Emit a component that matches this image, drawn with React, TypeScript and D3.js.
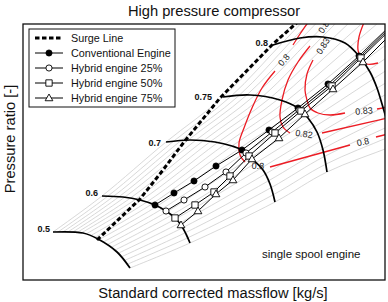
import React from "react";
import * as d3 from "d3";

type P = [number, number];

// ---------- data (massflow [kg/s], pressure ratio [-]) ----------
const SPEED_LABELS = ["0.5", "0.6", "0.7", "0.75", "0.8"];
const speed050: P[] = [[3.0, 4.8], [6.0, 4.7], [7.5, 4.1], [9.4, 2.8], [10.7, 1.2]];
const speed060: P[] = [[7.9, 8.4], [10.0, 8.3], [11.7, 8.0], [13.2, 7.5], [14.3, 6.9], [15.2, 6.2], [15.8, 5.5], [16.3, 4.6], [16.7, 3.7]];
const speed070: P[] = [[14.3, 13.8], [16.7, 14.0], [19.2, 13.8], [20.9, 13.4], [21.9, 13.0], [22.9, 12.1], [24.0, 11.0], [24.7, 9.6], [25.2, 7.8]];
const speed075: P[] = [[20.0, 18.3], [22.7, 18.5], [25.7, 18.0], [27.5, 17.2], [28.5, 16.2], [29.4, 14.8], [30.0, 13.0], [30.4, 10.8]];
const speed080: P[] = [[25.0, 23.5], [27.7, 24.2], [30.0, 24.3], [32.2, 23.7], [33.6, 22.4], [34.7, 20.8], [35.4, 19.2], [35.9, 17.6], [36.3, 16.2], [37.0, 13.4]];
const speedLabelAnchors: P[] = [[2.7, 5.1], [7.5, 8.7], [13.8, 13.7], [18.9, 18.3], [24.5, 23.7]];

const surgeLine: P[] = [[7.4, 4.0], [11.7, 8.1], [14.0, 11.0], [16.1, 13.8], [19.7, 18.2], [25.0, 23.6], [27.7, 26.0]];

const conventional: P[] = [[13.2, 7.5], [15.1, 8.7], [17.1, 9.9], [19.3, 11.4], [21.9, 13.0], [24.6, 15.0], [27.5, 17.2], [30.5, 19.6], [33.6, 22.4], [36.9, 25.6]];
const hybrid25: P[] = [[14.3, 6.9], [16.1, 8.0], [18.2, 9.3], [20.3, 10.8], [22.3, 12.7], [24.9, 14.8], [27.6, 17.0], [30.7, 19.5], [33.7, 22.3], [36.9, 25.4]];
const hybrid50: P[] = [[15.2, 6.2], [17.2, 7.5], [19.1, 8.8], [20.7, 10.4], [22.6, 12.4], [25.2, 14.7], [27.8, 16.9], [30.9, 19.4], [33.8, 22.2], [37.0, 25.3]];
const hybrid75: P[] = [[15.8, 5.5], [17.5, 6.9], [19.3, 8.6], [21.0, 10.0], [22.9, 12.1], [25.6, 14.2], [28.2, 16.6], [31.0, 19.1], [34.0, 21.8], [37.2, 25.0]];
const MARKED_POINTS = 9; // operating points per line (the last vertex only continues the line)

// efficiency iso-lines, split where their labels sit
const eff080: P[][] = [
  [[28.6, 25.9], [27.7, 24.6], [27.0, 23.5]],
  [[25.2, 20.9], [23.9, 19.2], [22.9, 17.2], [22.1, 15.2], [21.6, 13.7], [21.7, 12.5], [22.2, 11.8]],
  [[24.7, 11.3], [32.7, 13.5]],
  [[35.3, 14.3], [36.5, 14.6]],
];
const eff082: P[][] = [
  [[31.0, 25.6], [31.3, 26.2]],
  [[28.7, 23.4], [27.5, 21.8], [26.5, 20.0], [25.9, 18.0], [25.7, 16.3], [26.0, 15.3], [26.7, 14.7]],
  [[29.9, 14.7], [36.5, 16.2]],
];
const eff083: P[][] = [
  [[29.0, 22.0], [28.4, 20.6], [28.2, 19.0], [28.4, 18.0], [28.7, 17.2], [29.5, 16.7], [30.7, 16.5], [32.2, 16.7]],
  [[35.4, 17.1], [36.5, 17.3]],
];
const effInner: P[][] = [
  [[34.2, 26.0], [33.6, 24.3], [33.5, 23.0], [33.8, 22.1], [34.4, 21.6], [35.5, 21.7]],
];
const effLabelText = ["0.8", "0.8", "0.8", "0.82", "0.82", "0.83", "0.83"];
const effLabelAt: P[] = [[26.1, 22.0], [23.5, 11.4], [34.0, 13.8], [30.2, 25.5], [28.1, 14.6], [30.0, 23.4], [34.1, 16.9]];
const effLabelAngle = [-48, 3, -12, -58, 8, -58, -5];

const legendLabels = ["Surge Line", "Conventional Engine", "Hybrid engine 25%", "Hybrid engine 50%", "Hybrid engine 75%"];
const BETA_COUNT = 20;

// ---------- layout ----------
const W = 388, H = 302;
const FX0 = 23, FX1 = 385, FY0 = 24, FY1 = 280;
const FONT = "'Liberation Sans', Arial, Helvetica, sans-serif";
const RED = "#ec1c24";

const x = d3.scaleLinear().domain([0, 36.2]).range([FX0, FX1]);
const y = d3.scaleLinear().domain([0, 25.6]).range([FY1, FY0]);

const toPx = (p: P): P => [x(p[0]), y(p[1])];

function pointAlong(pts: P[], f: number): P {
  const px = pts.map(toPx);
  const lens: number[] = [];
  let total = 0;
  for (let i = 1; i < px.length; i++) {
    const l = Math.hypot(px[i][0] - px[i - 1][0], px[i][1] - px[i - 1][1]);
    lens.push(l);
    total += l;
  }
  let t = f * total;
  for (let i = 0; i < lens.length; i++) {
    if (t <= lens[i] || i === lens.length - 1) {
      const r = lens[i] === 0 ? 0 : Math.min(1, t / lens[i]);
      return [px[i][0] + (px[i + 1][0] - px[i][0]) * r, px[i][1] + (px[i + 1][1] - px[i][1]) * r];
    }
    t -= lens[i];
  }
  return px[px.length - 1];
}

const dataLine = d3.line<P>().x((d) => x(d[0])).y((d) => y(d[1])).curve(d3.curveCatmullRom.alpha(0.5));
const dataPoly = d3.line<P>().x((d) => x(d[0])).y((d) => y(d[1]));
const pxLine = d3.line<P>().curve(d3.curveCatmullRom.alpha(0.5));

const symCircle = d3.symbol().type(d3.symbolCircle).size(30)()!;
const symSquare = d3.symbol().type(d3.symbolSquare).size(40)()!;
const symTri = d3.symbol().type(d3.symbolTriangle).size(26)()!;

function Marker({ kind, cx, cy }: { kind: string; cx: number; cy: number }) {
  if (kind === "filled") return <path d={symCircle} transform={`translate(${cx},${cy})`} fill="#000" stroke="#000" strokeWidth={0.8} />;
  if (kind === "circle") return <path d={symCircle} transform={`translate(${cx},${cy})`} fill="#fff" stroke="#000" strokeWidth={0.9} />;
  if (kind === "square") return <path d={symSquare} transform={`translate(${cx},${cy})`} fill="#fff" stroke="#000" strokeWidth={0.9} />;
  return <path d={symTri} transform={`translate(${cx},${cy + 0.5})`} fill="#fff" stroke="#000" strokeWidth={0.9} />;
}

export default function App() {
  const speeds = [speed050, speed060, speed070, speed075, speed080];
  const betaLines: P[][] = d3.range(BETA_COUNT).map((i) => {
    const f = i / (BETA_COUNT - 1);
    const pts = speeds.map((s) => pointAlong(s, f));
    const a = pts[pts.length - 2], b = pts[pts.length - 1];
    pts.push([b[0] + (b[0] - a[0]) * 1.2, b[1] + (b[1] - a[1]) * 1.2]);
    return pts;
  });

  const opLines = [
    { data: conventional, kind: "filled" },
    { data: hybrid25, kind: "circle" },
    { data: hybrid50, kind: "square" },
    { data: hybrid75, kind: "triangle" },
  ];

  const legendY = [38, 53, 68, 83, 98];

  return (
    <svg width={W} height={H} style={{ position: "fixed", left: 0, top: 0, background: "#fff" }} fontFamily={FONT}>
      <defs>
        <clipPath id="plotClip">
          <rect x={FX0} y={FY0} width={FX1 - FX0} height={FY1 - FY0} />
        </clipPath>
      </defs>
      <rect x={0} y={0} width={W} height={H} fill="#fff" />
      <text x={214} y={16} textAnchor="middle" fontSize={14.7} fill="#111">High pressure compressor</text>
      <text x={213} y={298} textAnchor="middle" fontSize={14.7} fill="#111">Standard corrected massflow [kg/s]</text>
      <text transform="translate(14.5,139) rotate(-90)" textAnchor="middle" fontSize={14.7} fill="#111">Pressure ratio [-]</text>

      <g clipPath="url(#plotClip)">
        {betaLines.map((b, i) => (
          <path key={"b" + i} d={pxLine(b) || ""} fill="none" stroke="#cbcbcb" strokeWidth={0.75} />
        ))}
        {[eff080, eff082, eff083, effInner].map((c, ci) =>
          c.map((seg, si) => (
            <path key={`e${ci}-${si}`} d={dataLine(seg) || ""} fill="none" stroke={RED} strokeWidth={1.3} />
          ))
        )}
        {speeds.map((s, i) => (
          <path key={"s" + i} d={dataLine(s) || ""} fill="none" stroke="#000" strokeWidth={1.7} />
        ))}
        <path d={dataPoly(surgeLine) || ""} fill="none" stroke="#000" strokeWidth={3} strokeDasharray="4.5,2.5" />
        {opLines.map((o, i) => (
          <path key={"o" + i} d={dataPoly(o.data) || ""} fill="none" stroke="#000" strokeWidth={1} />
        ))}
        {opLines.map((o, i) =>
          o.data.slice(0, MARKED_POINTS).map((p, j) => <Marker key={`m${i}-${j}`} kind={o.kind} cx={x(p[0])} cy={y(p[1])} />)
        )}
        {effLabelText.map((t, i) => (
          <text
            key={"el" + i}
            transform={`translate(${x(effLabelAt[i][0])},${y(effLabelAt[i][1])}) rotate(${effLabelAngle[i]})`}
            textAnchor="middle"
            dominantBaseline="central"
            fontSize={9}
            fill="#222"
          >
            {t}
          </text>
        ))}
        <text x={262} y={258} fontSize={11.5} fill="#111">single spool engine</text>
      </g>

      {SPEED_LABELS.map((t, i) => (
        <text
          key={"sl" + i}
          x={x(speedLabelAnchors[i][0])}
          y={y(speedLabelAnchors[i][1])}
          textAnchor="end"
          dominantBaseline="central"
          fontSize={9}
          fontWeight="bold"
          fill="#111"
        >
          {t}
        </text>
      ))}

      <rect x={FX0} y={FY0} width={FX1 - FX0} height={FY1 - FY0} fill="none" stroke="#111" strokeWidth={1.3} />

      <g>
        <rect x={29} y={29} width={146} height={78} fill="#fff" stroke="#111" strokeWidth={1} />
        {legendLabels.map((t, i) => (
          <g key={"lg" + i}>
            {i === 0 ? (
              <line x1={35} x2={63} y1={legendY[i]} y2={legendY[i]} stroke="#000" strokeWidth={3} strokeDasharray="4.5,2.5" />
            ) : (
              <>
                <line x1={35} x2={63} y1={legendY[i]} y2={legendY[i]} stroke="#000" strokeWidth={1} />
                <Marker kind={opLines[i - 1].kind} cx={49} cy={legendY[i]} />
              </>
            )}
            <text x={71} y={legendY[i]} dominantBaseline="central" fontSize={10.8} fill="#111">{t}</text>
          </g>
        ))}
      </g>
    </svg>
  );
}
